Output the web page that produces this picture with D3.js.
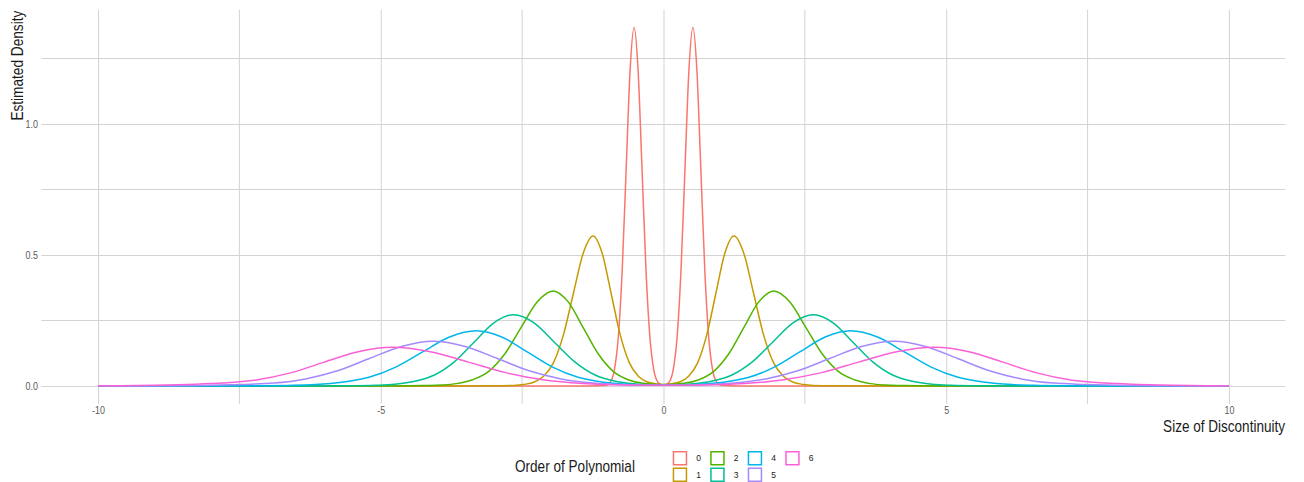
<!DOCTYPE html>
<html>
<head>
<meta charset="utf-8">
<script src="https://cdn.jsdelivr.net/npm/d3@7"></script>
<style>
  html, body { margin: 0; padding: 0; background: #fff; }
  svg { display: block; }
  text { font-family: "Liberation Sans Narrow", "Arial Narrow", "Liberation Sans", Arial, sans-serif; }
</style>
</head>
<body>
<svg id="chart" width="1304" height="482"></svg>
<script>
// ---------------- data ----------------
const seriesNames = ["0", "1", "2", "3", "4", "5", "6"];
const seriesColors = ["#F8766D", "#C49A00", "#53B400", "#00C094", "#00B6EB", "#A58AFF", "#FB61D7"];

const x0 = [-10, -1.3, -1.01, -0.94, -0.87, -0.80, -0.73, -0.66, -0.59, -0.52, -0.45, -0.38, -0.31, -0.24, -0.17, -0.10, -0.03, 0,
            0.03, 0.10, 0.17, 0.24, 0.31, 0.38, 0.45, 0.52, 0.59, 0.66, 0.73, 0.80, 0.87, 0.94, 1.01, 1.3, 10];
const y0 = [0, 0, 0.003, 0.015, 0.060, 0.185, 0.444, 0.830, 1.207, 1.368, 1.207, 0.830, 0.444, 0.185, 0.060, 0.015, 0.004, 0.003,
            0.004, 0.015, 0.060, 0.185, 0.444, 0.830, 1.207, 1.368, 1.207, 0.830, 0.444, 0.185, 0.060, 0.015, 0.003, 0, 0];

const x1 = [-10, -4, -2.995, -2.645, -2.47, -2.295, -2.12, -1.945, -1.77, -1.595, -1.42, -1.245, -1.085, -0.925, -0.765, -0.605, -0.445, -0.285, -0.125, 0,
            0.125, 0.285, 0.445, 0.605, 0.765, 0.925, 1.085, 1.245, 1.42, 1.595, 1.77, 1.945, 2.12, 2.295, 2.47, 2.645, 2.995, 4, 10];
const y1 = [0, 0, 0.0006, 0.0023, 0.006, 0.014, 0.037, 0.089, 0.195, 0.352, 0.507, 0.573, 0.507, 0.352, 0.195, 0.089, 0.037, 0.015, 0.008, 0.005,
            0.008, 0.015, 0.037, 0.089, 0.195, 0.352, 0.507, 0.573, 0.507, 0.352, 0.195, 0.089, 0.037, 0.014, 0.006, 0.0023, 0.0006, 0, 0];

const x2 = [-10, -5.5, -4.8, -4.23, -3.945, -3.66, -3.375, -3.09, -2.805, -2.52, -2.235, -1.95, -1.685, -1.42, -1.155, -0.89, -0.625, -0.36, -0.095, 0,
            0.095, 0.36, 0.625, 0.89, 1.155, 1.42, 1.685, 1.95, 2.235, 2.52, 2.805, 3.09, 3.375, 3.66, 3.945, 4.23, 4.8, 5.5, 10];
const y2 = [0, 0, 0.0004, 0.0015, 0.0036, 0.009, 0.024, 0.056, 0.123, 0.223, 0.321, 0.363, 0.321, 0.223, 0.123, 0.056, 0.024, 0.010, 0.006, 0.006,
            0.006, 0.010, 0.024, 0.056, 0.123, 0.223, 0.321, 0.363, 0.321, 0.223, 0.123, 0.056, 0.024, 0.009, 0.0036, 0.0015, 0.0004, 0, 0];

const x3 = [-10, -7, -6.15, -5.45, -5.10, -4.75, -4.40, -4.05, -3.70, -3.35, -3.0, -2.65, -2.29, -1.93, -1.57, -1.21, -0.85, -0.49, -0.13, 0,
            0.13, 0.49, 0.85, 1.21, 1.57, 1.93, 2.29, 2.65, 3.0, 3.35, 3.70, 4.05, 4.40, 4.75, 5.10, 5.45, 6.15, 7, 10];
const y3 = [0, 0, 0.0003, 0.0011, 0.0027, 0.0068, 0.018, 0.042, 0.092, 0.167, 0.241, 0.272, 0.241, 0.167, 0.092, 0.042, 0.018, 0.008, 0.004, 0.004,
            0.004, 0.008, 0.018, 0.042, 0.092, 0.167, 0.241, 0.272, 0.241, 0.167, 0.092, 0.042, 0.018, 0.0068, 0.0027, 0.0011, 0.0003, 0, 0];

const x4 = [-10, -8.06, -7.11, -6.635, -6.16, -5.685, -5.21, -4.735, -4.26, -3.785, -3.31, -2.86, -2.41, -1.96, -1.51, -1.06, -0.61, -0.16, 0,
            0.16, 0.61, 1.06, 1.51, 1.96, 2.41, 2.86, 3.31, 3.785, 4.26, 4.735, 5.21, 5.685, 6.16, 6.635, 7.11, 8.06, 10];
const y4 = [0, 0.0002, 0.0008, 0.0021, 0.0053, 0.014, 0.033, 0.072, 0.130, 0.187, 0.211, 0.187, 0.130, 0.072, 0.033, 0.014, 0.006, 0.003, 0.003,
            0.003, 0.006, 0.014, 0.033, 0.072, 0.130, 0.187, 0.211, 0.187, 0.130, 0.072, 0.033, 0.014, 0.0053, 0.0021, 0.0008, 0.0002, 0];

const x5 = [-10, -9.72, -8.59, -8.025, -7.46, -6.895, -6.33, -5.765, -5.20, -4.635, -4.07, -3.505, -2.94, -2.375, -1.81, -1.245, -0.68, -0.115, 0,
            0.115, 0.68, 1.245, 1.81, 2.375, 2.94, 3.505, 4.07, 4.635, 5.20, 5.765, 6.33, 6.895, 7.46, 8.025, 8.59, 9.72, 10];
const y5 = [0.0001, 0.0002, 0.001, 0.0025, 0.006, 0.011, 0.027, 0.058, 0.105, 0.151, 0.171, 0.151, 0.105, 0.058, 0.027, 0.011, 0.005, 0.003, 0.003,
            0.003, 0.005, 0.011, 0.027, 0.058, 0.105, 0.151, 0.171, 0.151, 0.105, 0.058, 0.027, 0.011, 0.006, 0.0025, 0.001, 0.0002, 0.0001];

const x6 = [-10, -9.6, -9.0, -8.4, -7.8, -7.2, -6.6, -6.0, -5.4, -4.8, -4.125, -3.45, -2.775, -2.10, -1.425, -0.75, -0.075, 0,
            0.075, 0.75, 1.425, 2.10, 2.775, 3.45, 4.125, 4.8, 5.4, 6.0, 6.6, 7.2, 7.8, 8.4, 9.0, 9.6, 10];
const y6 = [0.0005, 0.001, 0.003, 0.006, 0.011, 0.023, 0.050, 0.091, 0.131, 0.148, 0.131, 0.091, 0.050, 0.023, 0.0096, 0.004, 0.003, 0.003,
            0.003, 0.004, 0.0096, 0.023, 0.050, 0.091, 0.131, 0.148, 0.131, 0.091, 0.050, 0.023, 0.011, 0.006, 0.003, 0.001, 0.0005];

const seriesX = [x0, x1, x2, x3, x4, x5, x6];
const seriesY = [y0, y1, y2, y3, y4, y5, y6];

const xTicks = [-10, -5, 0, 5, 10];
const xTickLabels = ["-10", "-5", "0", "5", "10"];
const xMinorTicks = [-7.5, -2.5, 2.5, 7.5];
const yTicks = [0, 0.5, 1.0];
const yTickLabels = ["0.0", "0.5", "1.0"];
const yMinorTicks = [0.25, 0.75, 1.25];

const xTitle = "Size of Discontinuity";
const yTitle = "Estimated Density";
const legendTitle = "Order of Polynomial";

// ---------------- drawing ----------------
const svg = d3.select("#chart");
const panel = { left: 41.5, right: 1285.5, top: 9.7, bottom: 403.9 };

const x = d3.scaleLinear().domain([-11, 11]).range([panel.left, panel.right]);
const y = d3.scaleLinear().domain([-0.0684, 1.4364]).range([panel.bottom, panel.top]);

// narrow font is not installed: squeeze text horizontally with a transform
function squeezeTo(sel, baseTransform, targetWidth) {
  sel.each(function () {
    const w = this.getComputedTextLength();
    const s = targetWidth / w;
    d3.select(this).attr("transform", `${baseTransform} scale(${s},1)`);
  });
}
function squeezeTicks(sel, factor) {
  sel.each(function () {
    const t = d3.select(this);
    const xx = +t.attr("x") || 0, yy = +t.attr("y") || 0;
    t.attr("transform", `translate(${xx},${yy}) scale(${factor},1)`).attr("x", 0).attr("y", 0);
  });
}

const gridColor = "#d3d3d3";
const grid = svg.append("g");
grid.selectAll("line.vminor").data(xMinorTicks).join("line")
  .attr("x1", d => x(d)).attr("x2", d => x(d))
  .attr("y1", panel.top).attr("y2", panel.bottom)
  .attr("stroke", gridColor).attr("stroke-width", 1);
grid.selectAll("line.hminor").data(yMinorTicks).join("line")
  .attr("x1", panel.left).attr("x2", panel.right)
  .attr("y1", d => y(d)).attr("y2", d => y(d))
  .attr("stroke", gridColor).attr("stroke-width", 1);

const xAxis = d3.axisBottom(x).tickValues(xTicks).tickSize(-(panel.bottom - panel.top))
  .tickFormat((d, i) => xTickLabels[i]).tickPadding(4);
const gx = svg.append("g").attr("transform", `translate(0,${panel.bottom})`).call(xAxis);
gx.select(".domain").remove();
gx.selectAll(".tick line").attr("stroke", gridColor).attr("stroke-width", 1);
gx.selectAll(".tick text").attr("fill", "#5a5a5a").attr("font-size", 10.5)
  .attr("y", 10.5).attr("dy", 0).call(squeezeTicks, 0.85);

const yAxis = d3.axisLeft(y).tickValues(yTicks).tickSize(-(panel.right - panel.left))
  .tickFormat((d, i) => yTickLabels[i]).tickPadding(4);
const gy = svg.append("g").attr("transform", `translate(${panel.left},0)`).call(yAxis);
gy.select(".domain").remove();
gy.selectAll(".tick line").attr("stroke", gridColor).attr("stroke-width", 1);
gy.selectAll(".tick text").attr("fill", "#5a5a5a").attr("font-size", 10.5).attr("x", -3.5).call(squeezeTicks, 0.85);

// density lines
const line = d3.line()
  .x(d => x(d[0]))
  .y(d => y(d[1]))
  .curve(d3.curveMonotoneX);

svg.append("g").selectAll("path")
  .data(seriesNames.map((n, i) => ({ name: n, color: seriesColors[i], pts: seriesX[i].map((v, j) => [v, seriesY[i][j]]) })))
  .join("path")
  .attr("d", d => line(d.pts))
  .attr("fill", "none")
  .attr("stroke", d => d.color)
  .attr("stroke-width", 1.5)
  .attr("stroke-linejoin", "round");

// axis titles
svg.append("text").attr("text-anchor", "end")
  .attr("font-size", 16).attr("fill", "#1a1a1a").text(xTitle)
  .call(squeezeTo, `translate(${panel.right - 0.5},432)`, 122);
svg.append("text").attr("text-anchor", "end")
  .attr("font-size", 16).attr("fill", "#1a1a1a").text(yTitle)
  .call(squeezeTo, `translate(23,${panel.top + 1}) rotate(-90)`, 110);

// legend
const legend = svg.append("g");
legend.append("text")
  .attr("font-size", 16).attr("fill", "#1a1a1a").text(legendTitle)
  .call(squeezeTo, `translate(515,472)`, 120);
const keys = legend.selectAll("g.key").data(seriesNames).join("g")
  .attr("transform", (d, i) => `translate(${672.7 + Math.floor(i / 2) * 37.5},${451 + (i % 2) * 16.5})`);
keys.append("rect").attr("x", 0.75).attr("y", 0.75).attr("width", 13).attr("height", 13)
  .attr("fill", "#fff").attr("stroke", (d, i) => seriesColors[i]).attr("stroke-width", 1.5);
keys.append("text").attr("x", 23.5).attr("y", 7.5).attr("dy", "0.35em")
  .attr("font-size", 8.5).attr("fill", "#1a1a1a").text(d => d);
</script>
</body>
</html>
